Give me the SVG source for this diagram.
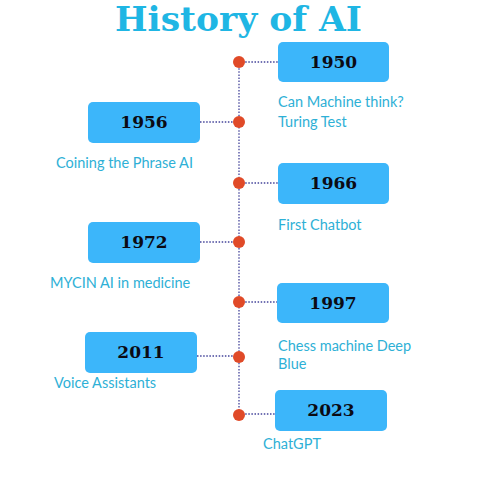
<svg xmlns="http://www.w3.org/2000/svg" width="477" height="482" viewBox="0 0 477 482">
  <style>
    .title { font-family: "DejaVu Serif", "Liberation Serif", serif; font-weight: 900; font-size: 34px; fill: #1fb6e4; }
    .box { fill: #3cb6fa; }
    .year { font-family: "DejaVu Serif", "Liberation Serif", serif; font-weight: bold; font-size: 17px; fill: #0b0b14; text-anchor: middle; }
    .label { font-family: Lato, "Open Sans", "Liberation Sans", sans-serif; font-size: 14.5px; fill: #2eb0d6; }
    .link { stroke: #44449a; stroke-width: 1.3; stroke-dasharray: 1.5 1.6; fill: none; }
    .dot { fill: #e04a28; }
  </style>
  <rect width="477" height="482" fill="#ffffff"/>

  <text class="title" x="115" y="31" textLength="247" lengthAdjust="spacingAndGlyphs">History of AI</text>

  <!-- timeline spine and branches -->
  <g id="connectors">
    <line class="link" x1="239" y1="62" x2="239" y2="415"/>
    <line class="link" x1="239" y1="62" x2="278" y2="62"/>
    <line class="link" x1="200" y1="122" x2="239" y2="122"/>
    <line class="link" x1="239" y1="183" x2="278" y2="183"/>
    <line class="link" x1="200" y1="242" x2="239" y2="242"/>
    <line class="link" x1="239" y1="302" x2="277" y2="302"/>
    <line class="link" x1="197" y1="356" x2="239" y2="356"/>
    <line class="link" x1="239" y1="414" x2="275" y2="414"/>
  </g>

  <g id="dots">
    <circle class="dot" cx="239" cy="62" r="6"/>
    <circle class="dot" cx="239" cy="122" r="6"/>
    <circle class="dot" cx="239" cy="183" r="6"/>
    <circle class="dot" cx="239" cy="242" r="6"/>
    <circle class="dot" cx="239" cy="302" r="6"/>
    <circle class="dot" cx="239" cy="357" r="6"/>
    <circle class="dot" cx="239" cy="415" r="6"/>
  </g>

  <g id="n1950">
    <rect class="box" x="278" y="42" width="111" height="40" rx="5"/>
    <text class="year" x="333.5" y="68">1950</text>
    <text class="label" x="278" y="107">Can Machine think?</text>
    <text class="label" x="278" y="127">Turing Test</text>
  </g>

  <g id="n1956">
    <rect class="box" x="88" y="102" width="112" height="41" rx="5"/>
    <text class="year" x="144" y="128">1956</text>
    <text class="label" x="56" y="168">Coining the Phrase AI</text>
  </g>

  <g id="n1966">
    <rect class="box" x="278" y="163" width="111" height="41" rx="5"/>
    <text class="year" x="333.5" y="189">1966</text>
    <text class="label" x="278" y="230">First Chatbot</text>
  </g>

  <g id="n1972">
    <rect class="box" x="88" y="222" width="112" height="41" rx="5"/>
    <text class="year" x="144" y="248">1972</text>
    <text class="label" x="50" y="288">MYCIN AI in medicine</text>
  </g>

  <g id="n1997">
    <rect class="box" x="277" y="283" width="112" height="40" rx="5"/>
    <text class="year" x="333" y="309">1997</text>
    <text class="label" x="278" y="351">Chess machine Deep</text>
    <text class="label" x="278" y="369">Blue</text>
  </g>

  <g id="n2011">
    <rect class="box" x="85" y="332" width="112" height="41" rx="5"/>
    <text class="year" x="141" y="358">2011</text>
    <text class="label" x="54" y="388">Voice Assistants</text>
  </g>

  <g id="n2023">
    <rect class="box" x="275" y="390" width="112" height="41" rx="5"/>
    <text class="year" x="331" y="416">2023</text>
    <text class="label" x="263" y="449">ChatGPT</text>
  </g>
</svg>
